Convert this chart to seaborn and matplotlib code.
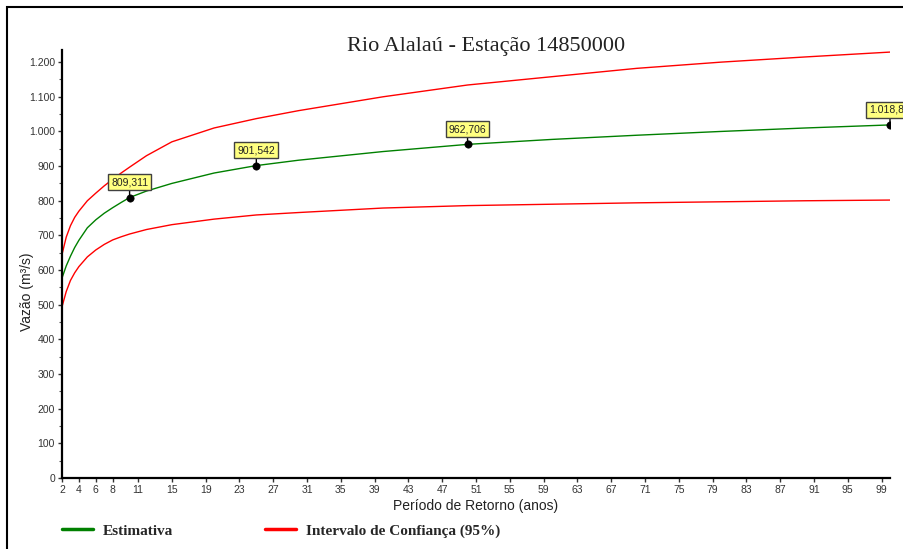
import matplotlib.pyplot as plt
import matplotlib.ticker as mticker
from matplotlib.lines import Line2D
from matplotlib.patches import Rectangle
import pandas as pd
import seaborn as sns

# valores
periodo = [2, 2.5, 3, 3.5, 4, 5, 6, 7, 8, 9, 10, 12, 15, 20, 25, 30, 40, 50,
           60, 70, 80, 90, 100]
estimativa = [577, 612, 640, 665, 686, 722, 745, 764, 780, 795, 809.3, 828,
              850, 880, 901.5, 917, 942, 962.7, 977, 989, 1000, 1010, 1018.8]
ic_superior = [645, 695, 728, 752, 770, 800, 822, 843, 862, 880, 897, 930,
               970, 1010, 1037, 1060, 1100, 1134, 1158, 1182, 1200, 1215, 1229]
ic_inferior = [494, 538, 570, 592, 610, 638, 658, 674, 687, 696, 704, 717,
               731, 747, 759, 766, 779, 786, 790, 794, 797, 800, 802]

pontos_T = [10, 25, 50, 100]
pontos_Q = [809.311, 901.542, 962.706, 1018.81]
rotulos = ['809,311', '901,542', '962,706', '1.018,81']

xticks = [2, 4, 6, 8, 11, 15, 19, 23, 27, 31, 35, 39, 43, 47, 51, 55, 59, 63,
          67, 71, 75, 79, 83, 87, 91, 95, 99]
yticks = [0, 100, 200, 300, 400, 500, 600, 700, 800, 900, 1000, 1100, 1200]

df = pd.DataFrame({'T': periodo, 'est': estimativa,
                   'sup': ic_superior, 'inf': ic_inferior})

sns.set_style('ticks')
plt.rcParams['font.family'] = ['Liberation Sans', 'DejaVu Sans']

fig = plt.figure(figsize=(9.04, 5.49), dpi=100)
ax = fig.add_axes([62/904, 1 - 478/549, 828/904, 428/549])

sns.lineplot(data=df, x='T', y='sup', color='#ff0000', lw=1, ax=ax)
sns.lineplot(data=df, x='T', y='inf', color='#ff0000', lw=1, ax=ax)
sns.lineplot(data=df, x='T', y='est', color='#008000', lw=1, ax=ax)
sns.scatterplot(x=pontos_T, y=pontos_Q, color='black', s=28, zorder=5, ax=ax,
                edgecolor='black')

for t, q, r in zip(pontos_T, pontos_Q, rotulos):
    ax.annotate(r, xy=(t, q), xytext=(0, 11), textcoords='offset points',
                ha='center', va='center', fontsize=7.5, color='#222222',
                bbox=dict(boxstyle='square,pad=0.3', fc='#ffff80', ec='#404040', lw=1),
                arrowprops=dict(arrowstyle='-', color='black', lw=1,
                                shrinkA=0, shrinkB=0),
                annotation_clip=False, zorder=6)

ax.set_xlim(2, 100)
ax.set_ylim(0, 1235)
ax.set_xticks(xticks)
ax.set_yticks(yticks)
ax.yaxis.set_minor_locator(mticker.MultipleLocator(50))
ax.yaxis.set_major_formatter(mticker.FuncFormatter(
    lambda v, p: f'{v:,.0f}'.replace(',', '.')))
ax.tick_params(axis='both', labelsize=7.5, colors='#333333', length=3, width=1, pad=2)
ax.tick_params(axis='y', which='minor', length=2, width=0.8, color='#555555')
ax.set_xlabel('')
ax.set_ylabel('')
for s in ['top', 'right']:
    ax.spines[s].set_visible(False)
for s in ['left', 'bottom']:
    ax.spines[s].set_linewidth(1.6)
    ax.spines[s].set_color('black')

fig.text(486/904, 1 - 47/549, 'Rio Alalaú - Estação 14850000', ha='center',
         va='center', fontsize=16, family='Liberation Serif', color='#222222')
fig.text(27/904, 1 - 292/549, 'Vazão (m³/s)', rotation=90, ha='center',
         va='center', fontsize=10, color='#222222')
fig.text(476/904, 1 - 506/549, 'Período de Retorno (anos)', ha='center',
         va='center', fontsize=10, color='#222222')

handles = [Line2D([], [], color='#008000', lw=2.5),
           Line2D([], [], color='#ff0000', lw=2.5)]
fig.legend(handles, ['Estimativa', 'Intervalo de Confiança (95%)'],
           loc='center left', bbox_to_anchor=(62/904, 1 - 531/549), ncol=2,
           frameon=False, handlelength=2, handletextpad=0.7, columnspacing=6,
           borderpad=0, borderaxespad=0,
           prop=dict(family='Liberation Serif', size=11, weight='bold'))

# moldura externa
fig.add_artist(Rectangle((7/904, -0.1), 1.2, 1 - 7/549 + 0.1,
                         transform=fig.transFigure, fill=False,
                         ec='black', lw=1.5))

plt.savefig('out.png', dpi=100)
